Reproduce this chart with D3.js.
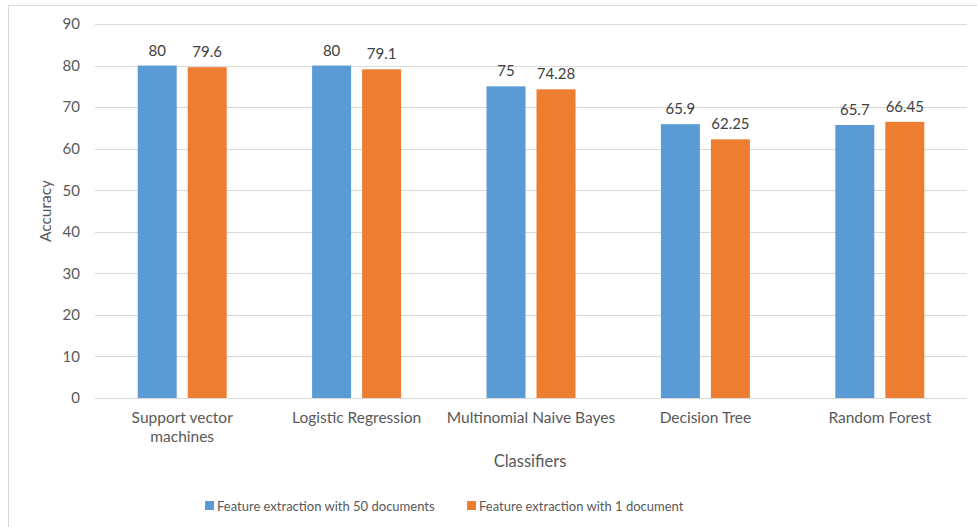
<!DOCTYPE html>
<html>
<head>
<meta charset="utf-8">
<script src="https://cdn.jsdelivr.net/npm/d3@7"></script>
<style>
  html, body { margin: 0; padding: 0; background: #fff; }
  svg { display: block; }
  text { font-family: Lato, "Open Sans", sans-serif; }
</style>
</head>
<body>
<svg id="chart" width="977" height="527"></svg>
<script>
const categories = ["Support vector machines", "Logistic Regression", "Multinomial Naive Bayes", "Decision Tree", "Random Forest"];
const seriesNames = ["Feature extraction with 50 documents", "Feature extraction with 1 document"];
const docs50 = [80, 80, 75, 65.9, 65.7];
const docs1 = [79.6, 79.1, 74.28, 62.25, 66.45];
const valueLabels50 = ["80", "80", "75", "65.9", "65.7"];
const valueLabels1 = ["79.6", "79.1", "74.28", "62.25", "66.45"];
const yTicks = [0, 10, 20, 30, 40, 50, 60, 70, 80, 90];
const colors = ["#5B9BD5", "#ED7D31"];

const svg = d3.select("#chart");
const W = 977, H = 527;
const margin = { left: 95, right: 10, top: 24, bottom: 129 };
const plotW = W - margin.left - margin.right;
const plotH = H - margin.top - margin.bottom;
const FONT = "Lato, 'Open Sans', sans-serif";

// outer chart frame
svg.append("rect")
  .attr("x", 8.5).attr("y", 5.5)
  .attr("width", W + 20).attr("height", H + 20)
  .attr("fill", "none").attr("stroke", "#d9d9d9").attr("stroke-width", 1);

const g = svg.append("g").attr("transform", `translate(${margin.left},${margin.top})`);

const y = d3.scaleLinear().domain([0, 90]).range([plotH, 0]);
const x0 = d3.scaleBand().domain(categories).range([0, plotW]).paddingInner(0).paddingOuter(0);
const x1 = d3.scaleBand().domain([0, 1]).range([0, 89]).paddingInner(0.22);

// gridlines
g.append("g").selectAll("line").data(yTicks).join("line")
  .attr("x1", 0).attr("x2", plotW)
  .attr("y1", d => Math.round(y(d)) + 0.5).attr("y2", d => Math.round(y(d)) + 0.5)
  .attr("stroke", "#d9d9d9").attr("stroke-width", 1);

// y axis labels
const yAxis = d3.axisLeft(y).tickValues(yTicks).tickSize(0).tickPadding(15);
g.append("g").call(yAxis)
  .call(s => s.select(".domain").remove())
  .selectAll("text")
  .attr("font-size", 15).attr("fill", "#595959")
  .style("font-family", FONT);

// bars
const data = categories.map((c, i) => ({ c, vals: [docs50[i], docs1[i]], labels: [valueLabels50[i], valueLabels1[i]] }));
const groups = g.selectAll(".grp").data(data).join("g")
  .attr("class", "grp")
  .attr("transform", d => `translate(${x0(d.c) + (x0.bandwidth() - 89) / 2},0)`);

groups.selectAll("rect").data(d => d.vals.map((v, k) => ({ v, k }))).join("rect")
  .attr("x", d => x1(d.k))
  .attr("width", x1.bandwidth())
  .attr("y", d => y(d.v))
  .attr("height", d => y(0) - y(d.v))
  .attr("fill", d => colors[d.k]);

groups.selectAll("text.val").data(d => d.vals.map((v, k) => ({ v, k, t: d.labels[k] }))).join("text")
  .attr("class", "val")
  .attr("x", d => x1(d.k) + x1.bandwidth() / 2)
  .attr("y", d => y(d.v) - 10)
  .attr("text-anchor", "middle")
  .attr("font-size", 15).attr("fill", "#404040")
  .text(d => d.t);

// category labels
const xAxis = d3.axisBottom(x0).tickSize(0).tickPadding(0);
const xg = g.append("g").attr("transform", `translate(0,${plotH})`).call(xAxis);
xg.select(".domain").remove();
xg.selectAll(".tick text").each(function(d) {
  const t = d3.select(this);
  t.text(null).attr("y", 0).attr("dy", null)
    .attr("font-size", 15.5).attr("fill", "#595959")
    .style("font-family", FONT);
  const lines = d === "Support vector machines" ? ["Support vector", "machines"] : [d];
  lines.forEach((ln, i) => {
    t.append("tspan").attr("x", 0).attr("y", 25 + i * 19).text(ln);
  });
});

// axis titles
svg.append("text")
  .attr("x", margin.left + plotW / 2 - 1).attr("y", 467)
  .attr("text-anchor", "middle").attr("font-size", 16.5).attr("fill", "#595959")
  .text("Classifiers");

svg.append("text")
  .attr("transform", `translate(51,${margin.top + plotH / 2}) rotate(-90)`)
  .attr("text-anchor", "middle").attr("font-size", 15.5).attr("fill", "#595959")
  .text("Accuracy");

// legend
const legendX = [205, 467];
const legend = svg.append("g");
seriesNames.forEach((name, i) => {
  legend.append("rect")
    .attr("x", legendX[i]).attr("y", 501)
    .attr("width", 9).attr("height", 9)
    .attr("fill", colors[i]);
  legend.append("text")
    .attr("x", legendX[i] + 12).attr("y", 510.5)
    .attr("font-size", 13).attr("fill", "#595959")
    .text(name);
});
</script>
</body>
</html>
